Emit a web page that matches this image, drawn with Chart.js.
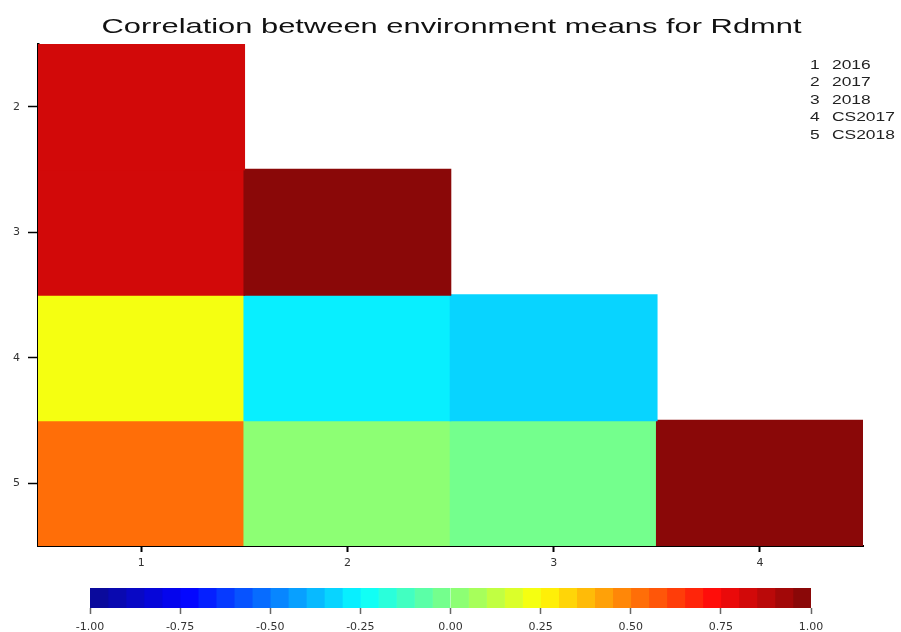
<!DOCTYPE html>
<html><head><meta charset="utf-8">
<script src="https://cdn.jsdelivr.net/npm/chart.js@4"></script>
<style>
html,body{margin:0;padding:0;background:#fff;}
#wrap{position:relative;width:901px;height:632px;overflow:hidden;background:#fff;}
#main{position:absolute;left:0;top:0;}
#cbar{position:absolute;left:0;top:580px;}
</style></head><body>
<div id="wrap">
<canvas id="main" width="901" height="580"></canvas>
<canvas id="cbar" width="901" height="52"></canvas>
</div>
<script>
// ---- data ----
const titleText = 'Correlation between environment means for Rdmnt';
const colLabels = ['1', '2', '3', '4'];
const rowLabels = [2, 3, 4, 5];
const row2 = [0.83, null, null, null];
const row3 = [0.82, 0.97, null, null];
const row4 = [0.24, -0.27, -0.32, null];
const row5 = [0.51, 0.02, -0.03, 0.96];
const envIds = ['1', '2', '3', '4', '5'];
const envNames = ['2016', '2017', '2018', 'CS2017', 'CS2018'];
const scaleTicks = [-1, -0.75, -0.5, -0.25, 0, 0.25, 0.5, 0.75, 1];
const nLevels = 40;

// ---- colour palette (jet ramp, 40 levels from -1 to 1) ----
const jetAnchors = ['#0A0A9C', '#0404FF', '#087FFF', '#08FFFF', '#80FF80', '#FFFF08', '#FF8008', '#FF0A0A', '#8A0808'];
function hexToRgb(h) { return [parseInt(h.slice(1, 3), 16), parseInt(h.slice(3, 5), 16), parseInt(h.slice(5, 7), 16)]; }
function rampPalette(anchors, n) {
  const rgb = anchors.map(hexToRgb);
  const out = [];
  for (let i = 0; i < n; i++) {
    const t = i * (rgb.length - 1) / (n - 1);
    const k = Math.min(rgb.length - 2, Math.floor(t));
    const f = t - k;
    const c = rgb[k].map((v, j) => Math.round(v + (rgb[k + 1][j] - v) * f));
    out.push('rgb(' + c.join(',') + ')');
  }
  return out;
}
const palette = rampPalette(jetAnchors, nLevels);
function colorFor(v) {
  const idx = Math.min(nLevels - 1, Math.max(0, Math.floor((v + 1) / 2 * nLevels)));
  return palette[idx];
}

// ---- text plugin (title + environment key) ----
function drawStretched(ctx, text, x, y, font, sx, color, align, baseline) {
  ctx.save();
  ctx.translate(x, y);
  ctx.scale(sx, 1);
  ctx.font = font;
  ctx.fillStyle = color;
  ctx.textAlign = align;
  ctx.textBaseline = baseline;
  ctx.fillText(text, 0, 0);
  ctx.restore();
}
const textPlugin = {
  id: 'texts',
  afterDraw(chart) {
    const ctx = chart.ctx;
    drawStretched(ctx, titleText, 451.5, 33, '21px "Liberation Sans", Arial, sans-serif', 1.47, '#111', 'center', 'alphabetic');
    envIds.forEach((id, i) => {
      const y = 65.5 + 17.5 * i;
      drawStretched(ctx, id, 810, y, '12px "Liberation Sans", Arial, sans-serif', 1.45, '#222', 'left', 'middle');
      drawStretched(ctx, envNames[i], 832, y, '12px "Liberation Sans", Arial, sans-serif', 1.45, '#222', 'left', 'middle');
    });
  }
};

// ---- main heatmap ----
const rows = [row2, row3, row4, row5];
const datasets = rows.map((vals, k) => ({
  label: 'row ' + rowLabels[k],
  data: vals.map(v => v == null ? null : [rowLabels[k] - 0.5, rowLabels[k] + 0.5]),
  backgroundColor: vals.map(v => v == null ? 'rgba(0,0,0,0)' : colorFor(v)),
  borderWidth: 0,
  inflateAmount: 0.8,
  grouped: false,
  barPercentage: 1,
  categoryPercentage: 1
}));

new Chart(document.getElementById('main'), {
  type: 'bar',
  data: { labels: colLabels, datasets: datasets },
  options: {
    responsive: false,
    animation: false,
    layout: { padding: { left: 0, right: 38, top: 44, bottom: 0 } },
    plugins: { legend: { display: false }, title: { display: false }, tooltip: { enabled: false } },
    scales: {
      x: {
        type: 'category',
        offset: true,
        afterFit: s => { s.height = 34; },
        grid: { drawOnChartArea: false, offset: false, tickLength: 6, tickColor: '#000', tickWidth: 2 },
        border: { display: true, color: '#000', width: 2 },
        ticks: { font: { family: 'DejaVu Sans', size: 11 }, color: '#333', padding: 5, maxRotation: 0 }
      },
      y: {
        type: 'linear',
        reverse: true,
        min: 1.5,
        max: 5.5,
        afterBuildTicks: s => { s.ticks = rowLabels.map(v => ({ value: v })); },
        afterFit: s => { s.width = 38; },
        grid: { drawOnChartArea: false, tickLength: 10, tickColor: '#000', tickWidth: 1.5 },
        border: { display: true, color: '#000', width: 2.5 },
        ticks: { font: { family: 'DejaVu Sans', size: 11 }, color: '#333', padding: 8 }
      }
    }
  },
  plugins: [textPlugin]
});

// ---- colour key ----
new Chart(document.getElementById('cbar'), {
  type: 'bar',
  data: {
    labels: ['key'],
    datasets: palette.map((c, i) => ({
      data: [[-1 + i * 2 / nLevels, -1 + (i + 1) * 2 / nLevels]],
      backgroundColor: c,
      borderWidth: 0,
      grouped: false,
      barPercentage: 1,
      categoryPercentage: 1
    }))
  },
  options: {
    indexAxis: 'y',
    responsive: false,
    animation: false,
    layout: { padding: { left: 90, right: 90, top: 8, bottom: 0 } },
    plugins: { legend: { display: false }, title: { display: false }, tooltip: { enabled: false } },
    scales: {
      x: {
        type: 'linear',
        min: -1,
        max: 1,
        afterBuildTicks: s => { s.ticks = scaleTicks.map(v => ({ value: v })); },
        afterFit: s => { s.height = 24; },
        grid: { drawOnChartArea: false, tickLength: 6, tickColor: '#666', tickWidth: 1.5 },
        border: { display: false },
        ticks: { callback: v => Number(v).toFixed(2), font: { family: 'DejaVu Sans', size: 11 }, color: '#333', padding: 7, maxRotation: 0, autoSkip: false }
      },
      y: { display: false }
    }
  }
});
</script>
</body></html>
